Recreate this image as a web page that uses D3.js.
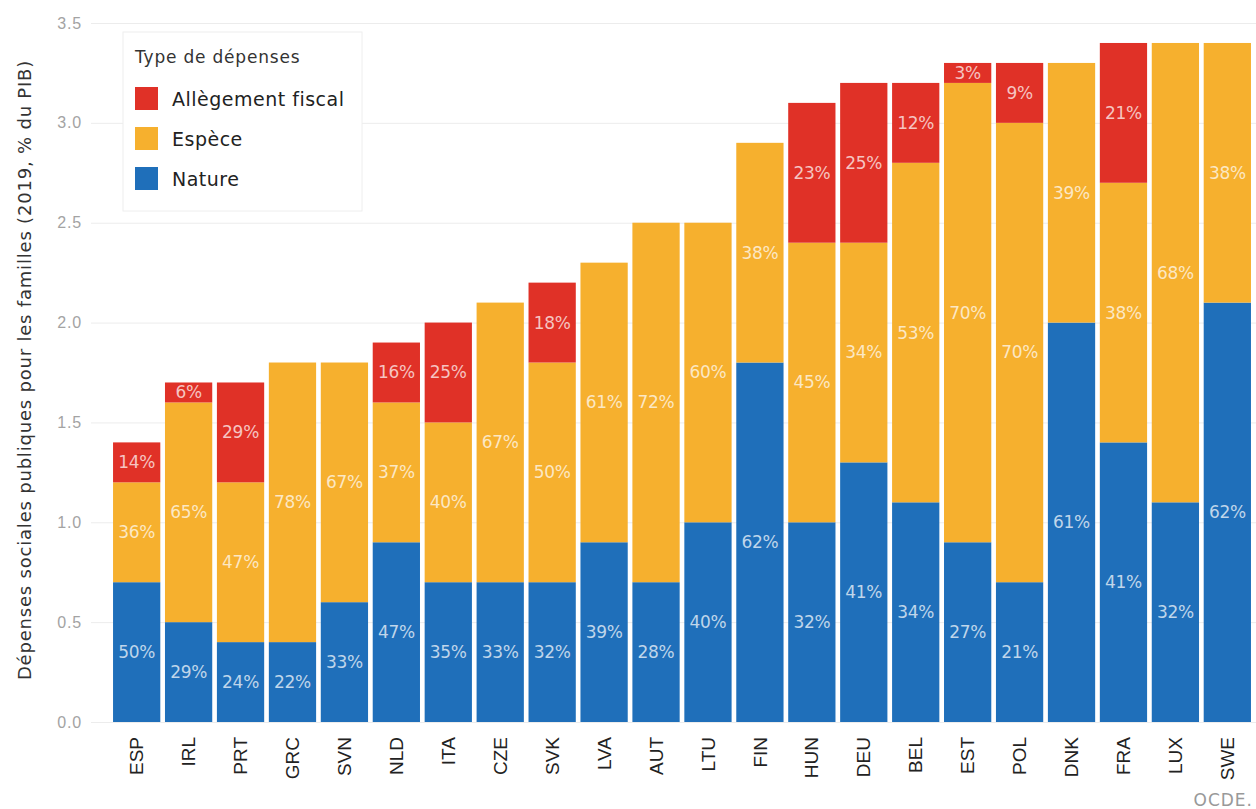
<!DOCTYPE html>
<html>
<head>
<meta charset="utf-8">
<script src="https://cdn.jsdelivr.net/npm/d3@7.9.0/dist/d3.min.js"></script>
<style>
  body { margin: 0; background: #fff; }
  svg { display: block; font-family: "DejaVu Sans", "Noto Sans", sans-serif; }
</style>
</head>
<body>
<svg id="chart" width="1256" height="809"></svg>
<script>
// data (% du PIB, 2019)
const countries = ['ESP', 'IRL', 'PRT', 'GRC', 'SVN', 'NLD', 'ITA', 'CZE', 'SVK', 'LVA', 'AUT',
                   'LTU', 'FIN', 'HUN', 'DEU', 'BEL', 'EST', 'POL', 'DNK', 'FRA', 'LUX', 'SWE'];
const nature = [0.7, 0.5, 0.4, 0.4, 0.6, 0.9, 0.7, 0.7, 0.7, 0.9, 0.7,
                1.0, 1.8, 1.0, 1.3, 1.1, 0.9, 0.7, 2.0, 1.4, 1.1, 2.1];
const espece = [0.5, 1.1, 0.8, 1.4, 1.2, 0.7, 0.8, 1.4, 1.1, 1.4, 1.8,
                1.5, 1.1, 1.4, 1.1, 1.7, 2.3, 2.3, 1.3, 1.3, 2.3, 1.3];
const fiscal = [0.2, 0.1, 0.5, 0, 0, 0.3, 0.5, 0, 0.4, 0, 0,
                0, 0, 0.7, 0.8, 0.4, 0.1, 0.3, 0, 0.7, 0, 0];
const yTicks = [0, 0.5, 1, 1.5, 2, 2.5, 3, 3.5];

const seriesKeys = ['nature', 'espece', 'fiscal'];
const seriesNames = { nature: 'Nature', espece: 'Espèce', fiscal: 'Allègement fiscal' };
const colors = { nature: '#1f6fba', espece: '#f6b02e', fiscal: '#e03127' };

const rows = countries.map((c, i) => ({
  country: c, nature: nature[i], espece: espece[i], fiscal: fiscal[i]
}));

const svg = d3.select('#chart');
const margin = { top: 23, right: 4, bottom: 87, left: 112 };
const W = 1256, H = 809;

const x = d3.scaleBand()
  .domain(countries)
  .range([margin.left, W - margin.right])
  .paddingInner(0.09)
  .paddingOuter(0.02);

const y = d3.scaleLinear()
  .domain([0, 3.5])
  .range([H - margin.bottom, margin.top]);

// grid + y labels
const yAxis = svg.append('g')
  .attr('transform', `translate(${margin.left - 21},0)`)
  .call(d3.axisLeft(y).tickValues(yTicks).tickFormat(d3.format('.1f'))
    .tickSize(-(W - margin.left + 21)).tickPadding(9));
yAxis.select('.domain').remove();
yAxis.selectAll('.tick line').attr('stroke', '#ececec');
yAxis.selectAll('.tick text').attr('fill', '#a3a3a3')
  .style('font-size', '16px').style('letter-spacing', '0.8px');

const stacked = d3.stack().keys(seriesKeys)(rows);

const layers = svg.append('g').selectAll('g')
  .data(stacked)
  .join('g')
  .attr('fill', (d) => colors[d.key]);

layers.selectAll('rect')
  .data((d) => d)
  .join('rect')
  .attr('x', (d) => x(d.data.country))
  .attr('width', x.bandwidth())
  .attr('y', (d) => y(d[1]))
  .attr('height', (d) => y(d[0]) - y(d[1]));

// percentage labels centred in each segment
stacked.forEach((layer) => {
  svg.append('g').selectAll('text')
    .data(layer.filter((d) => d[1] - d[0] > 0))
    .join('text')
    .attr('x', (d) => x(d.data.country) + x.bandwidth() / 2)
    .attr('y', (d) => y((d[0] + d[1]) / 2))
    .attr('dy', '0.35em')
    .attr('text-anchor', 'middle')
    .attr('fill', '#fff')
    .attr('fill-opacity', 0.72)
    .style('font-size', '17px')
    .style('letter-spacing', '-0.3px')
    .text((d) => {
      const total = d3.sum(seriesKeys, (k) => d.data[k]);
      return Math.round((d[1] - d[0]) / total * 100) + '%';
    });
});

// x labels, rotated
const xAxis = svg.append('g')
  .attr('transform', `translate(0,${H - margin.bottom})`)
  .call(d3.axisBottom(x).tickSize(0).tickPadding(0));
xAxis.select('.domain').remove();
xAxis.selectAll('.tick text')
  .attr('transform', 'rotate(-90)')
  .attr('text-anchor', 'end')
  .attr('x', -15)
  .attr('y', 0)
  .attr('dy', '0.35em')
  .attr('fill', '#222')
  .style('font-size', '19px');

// y title
svg.append('text')
  .attr('transform', `translate(31,370) rotate(-90)`)
  .attr('text-anchor', 'middle')
  .attr('fill', '#333')
  .style('font-size', '18px')
  .style('letter-spacing', '0.8px')
  .text('Dépenses sociales publiques pour les familles (2019, % du PIB)');

// legend
const legend = svg.append('g').attr('transform', 'translate(123,32)');
legend.append('rect')
  .attr('width', 239).attr('height', 179)
  .attr('fill', '#fff').attr('stroke', '#eeeeee');
legend.append('text')
  .attr('x', 12).attr('y', 31)
  .attr('fill', '#333')
  .style('font-size', '17px')
  .style('letter-spacing', '0.8px')
  .text('Type de dépenses');
['fiscal', 'espece', 'nature'].forEach((k, i) => {
  const g = legend.append('g').attr('transform', `translate(12,${55 + i * 40})`);
  g.append('rect').attr('width', 23).attr('height', 23).attr('fill', colors[k]);
  g.append('text')
    .attr('x', 37).attr('y', 12).attr('dy', '0.35em')
    .attr('fill', '#222')
    .style('font-size', '19px')
    .style('letter-spacing', '0.5px')
    .text(seriesNames[k]);
});

// source
svg.append('text')
  .attr('x', W - 3).attr('y', H - 3)
  .attr('text-anchor', 'end')
  .attr('fill', '#999')
  .style('font-size', '17px')
  .style('letter-spacing', '1px')
  .text('OCDE.');
</script>
</body>
</html>
